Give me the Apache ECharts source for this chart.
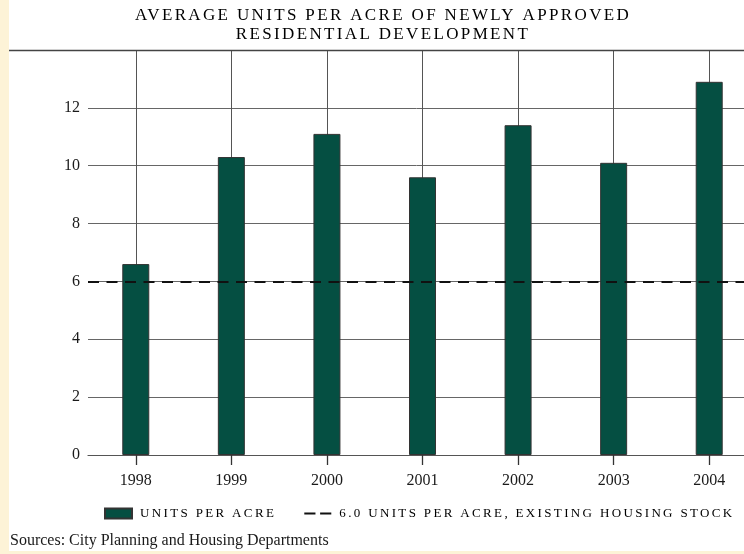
<!DOCTYPE html>
<html>
<head>
<meta charset="utf-8">
<script src="https://cdn.jsdelivr.net/npm/echarts@6/dist/echarts.min.js"></script>
<style>
  html, body { margin: 0; padding: 0; background: #fdf3d7; }
  #chart { width: 744px; height: 554px; }
</style>
</head>
<body>
<div id="chart"></div>
<script>
// ---- data ----
const categories = ['1998', '1999', '2000', '2001', '2002', '2003', '2004'];
const unitsPerAcre = [6.6, 10.3, 11.1, 9.6, 11.4, 10.1, 12.9];
const benchmark = 6.0;
const yMin = 0, yMax = 14, yStep = 2;
const titleLines = ['AVERAGE UNITS PER ACRE OF NEWLY APPROVED', 'RESIDENTIAL DEVELOPMENT'];
const barName = 'UNITS PER ACRE';
const lineName = '6.0 UNITS PER ACRE, EXISTING HOUSING STOCK';
const sourceText = 'Sources: City Planning and Housing Departments';

// letter spacing for the all-caps texts (title, legend)
(function () {
  const P = CanvasRenderingContext2D.prototype;
  const LS = '2.35px';
  const caps = s => typeof s === 'string' && /[A-Z]/.test(s) && !/[a-z]/.test(s);
  const of = P.fillText;
  P.fillText = function (t, x, y, m) {
    const args = m === undefined ? [t, x, y] : [t, x, y, m];
    if (caps(t) && 'letterSpacing' in this) {
      const prev = this.letterSpacing;
      this.letterSpacing = LS;
      const r = of.apply(this, args);
      this.letterSpacing = prev;
      return r;
    }
    return of.apply(this, args);
  };
})();

const serif = '"Liberation Serif", "DejaVu Serif", serif';
const green = '#054f42';
const dashIcon = 'path://M0,0L0.01,0M0,10L0.01,10M0,4h12v2.2h-12zM17,4h12v2.2h-12z';

const chart = echarts.init(document.getElementById('chart'), null, { renderer: 'canvas' });
chart.setOption({
  animation: false,
  backgroundColor: '#fdf3d7',
  textStyle: { fontFamily: serif },
  graphic: [
    { type: 'rect', z: -10, silent: true, shape: { x: 9, y: 0, width: 735, height: 551 }, style: { fill: '#ffffff' } },
    { type: 'line', z: 10, silent: true, shape: { x1: 9, y1: 50.5, x2: 744, y2: 50.5 }, style: { stroke: '#444', lineWidth: 1.5 } },
    { type: 'text', left: 10, top: 533, silent: true,
      style: { text: sourceText, font: '16px ' + serif, fill: '#1a1a1a' } }
  ],
  title: {
    text: titleLines.join('\n'),
    left: 378,
    textAlign: 'center',
    top: 1,
    textStyle: { fontFamily: serif, fontSize: 17, fontWeight: 'normal', color: '#000', lineHeight: 19 }
  },
  legend: {
    left: 99,
    top: 502,
    width: 700,
    itemWidth: 27,
    itemHeight: 10,
    itemGap: 61,
    textStyle: { fontFamily: serif, fontSize: 13, color: '#000', padding: [0, 0, 0, 3] },
    data: [
      { name: barName, icon: 'rect' },
      { name: lineName, icon: dashIcon }
    ]
  },
  grid: { left: 88, top: 50, width: 669, height: 405, outerBoundsMode: 'none', containLabel: false },
  xAxis: {
    type: 'category',
    data: categories,
    axisLine: { show: true, lineStyle: { color: '#555', width: 1.2 } },
    axisTick: { show: true, inside: false, alignWithLabel: true, interval: 0, length: 10, lineStyle: { color: '#333', width: 1.3 } },
    axisLabel: { fontFamily: serif, fontSize: 16, color: '#1a1a1a', margin: 18 },
    splitLine: { show: false }
  },
  yAxis: {
    type: 'value',
    min: yMin, max: yMax, interval: yStep,
    axisLine: { show: false },
    axisTick: { show: false },
    axisLabel: { fontFamily: serif, fontSize: 16, color: '#1a1a1a', margin: 8, showMaxLabel: false },
    splitLine: { lineStyle: { color: '#666', width: 1 } }
  },
  series: [
    {
      name: barName,
      type: 'bar',
      data: unitsPerAcre,
      barWidth: 27,
      z: 2,
      itemStyle: { color: green, borderColor: '#333', borderWidth: 1 },
      markLine: {
        z: 1,
        silent: true,
        symbol: 'none',
        label: { show: false },
        lineStyle: { color: '#555', width: 1, type: 'solid' },
        data: categories.map(c => ({ xAxis: c }))
      }
    },
    {
      name: lineName,
      type: 'line',
      data: [],
      symbol: 'none',
      lineStyle: { type: [12, 5], width: 2, color: '#111' },
      itemStyle: { color: '#111' },
      markLine: {
        z: 5,
        silent: true,
        symbol: 'none',
        label: { show: false },
        lineStyle: { type: [11, 7.5], width: 2.2, color: '#111' },
        data: [{ yAxis: benchmark }]
      }
    }
  ]
});
</script>
</body>
</html>
